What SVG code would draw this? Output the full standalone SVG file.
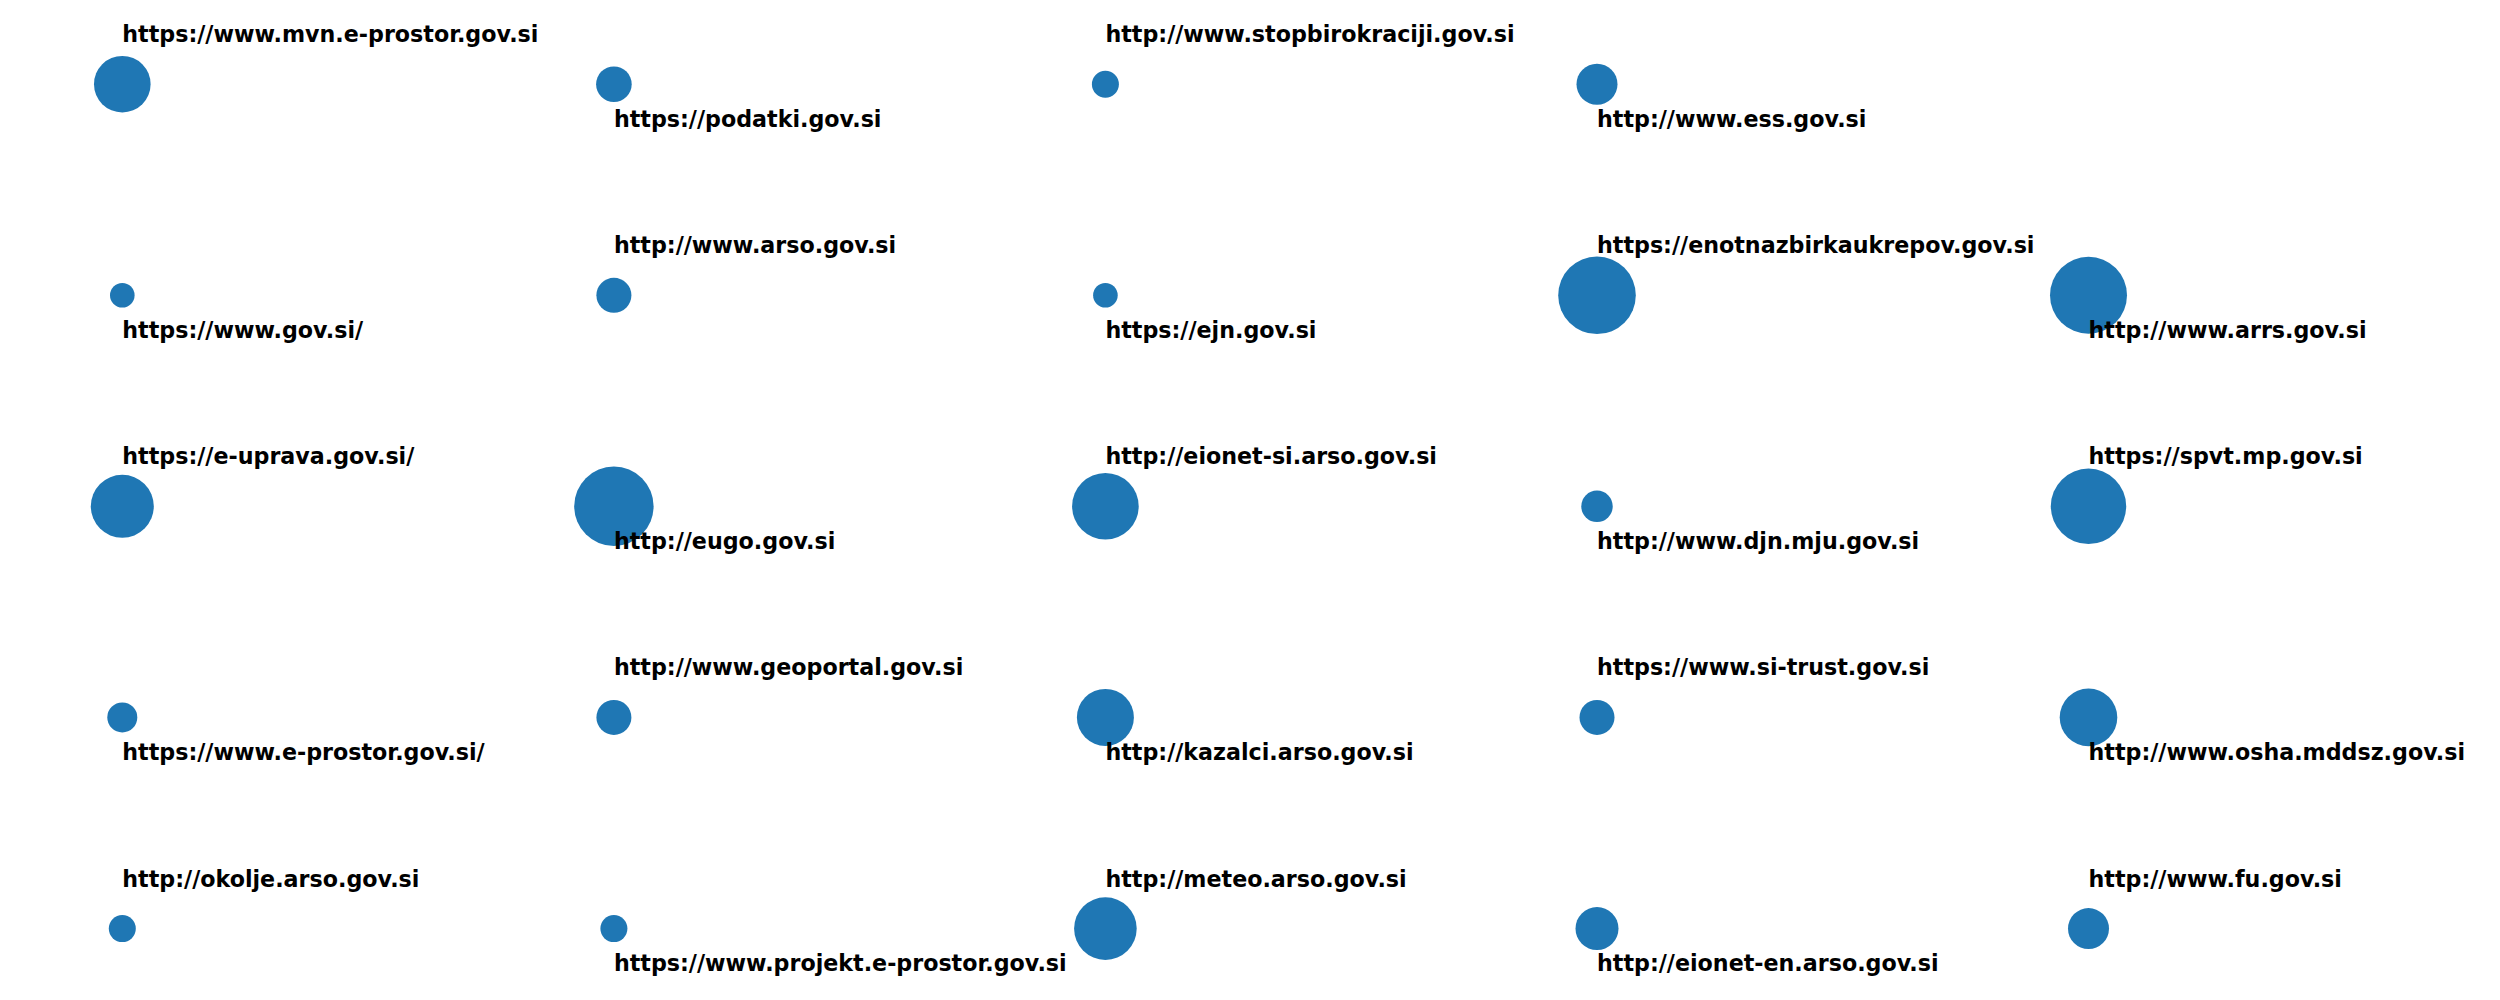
<svg xmlns="http://www.w3.org/2000/svg" width="2500" height="1000" viewBox="0 0 2500 1000">
<style>
.n{fill:#1f77b4}
.l{font-family:"DejaVu Sans","Liberation Sans",sans-serif;font-weight:bold;font-size:22.2px;fill:#000}
</style>
<rect width="2500" height="1000" fill="#fff"/>
<g id="connectors"></g>
<g id="n-mvn"><circle class="n" cx="122.3" cy="84.2" r="28.3"/><text class="l" x="122.3" y="42.2">https://www.mvn.e-prostor.gov.si</text></g>
<g id="n-podatki"><circle class="n" cx="613.9" cy="84.2" r="17.8"/><text class="l" x="613.9" y="126.7">https://podatki.gov.si</text></g>
<g id="n-stopbirokraciji"><circle class="n" cx="1105.4" cy="84.2" r="13.5"/><text class="l" x="1105.4" y="42.2">http://www.stopbirokraciji.gov.si</text></g>
<g id="n-ess"><circle class="n" cx="1597" cy="84.2" r="20.5"/><text class="l" x="1597" y="126.7">http://www.ess.gov.si</text></g>

<g id="n-govsi"><circle class="n" cx="122.3" cy="295.3" r="12.3"/><text class="l" x="122.3" y="337.8">https://www.gov.si/</text></g>
<g id="n-arso"><circle class="n" cx="613.9" cy="295.3" r="17.5"/><text class="l" x="613.9" y="253.3">http://www.arso.gov.si</text></g>
<g id="n-ejn"><circle class="n" cx="1105.4" cy="295.3" r="12.3"/><text class="l" x="1105.4" y="337.8">https://ejn.gov.si</text></g>
<g id="n-enotnazbirka"><circle class="n" cx="1597" cy="295.3" r="38.8"/><text class="l" x="1597" y="253.3">https://enotnazbirkaukrepov.gov.si</text></g>
<g id="n-arrs"><circle class="n" cx="2088.5" cy="295.3" r="38.5"/><text class="l" x="2088.5" y="337.8">http://www.arrs.gov.si</text></g>

<g id="n-euprava"><circle class="n" cx="122.3" cy="506.3" r="31.5"/><text class="l" x="122.3" y="464.3">https://e-uprava.gov.si/</text></g>
<g id="n-eugo"><circle class="n" cx="613.9" cy="506.3" r="39.7"/><text class="l" x="613.9" y="548.8">http://eugo.gov.si</text></g>
<g id="n-eionet-si"><circle class="n" cx="1105.4" cy="506.3" r="33.3"/><text class="l" x="1105.4" y="464.3">http://eionet-si.arso.gov.si</text></g>
<g id="n-djn"><circle class="n" cx="1597" cy="506.3" r="15.7"/><text class="l" x="1597" y="548.8">http://www.djn.mju.gov.si</text></g>
<g id="n-spvt"><circle class="n" cx="2088.5" cy="506.3" r="37.7"/><text class="l" x="2088.5" y="464.3">https://spvt.mp.gov.si</text></g>

<g id="n-eprostor"><circle class="n" cx="122.3" cy="717.4" r="15"/><text class="l" x="122.3" y="759.9">https://www.e-prostor.gov.si/</text></g>
<g id="n-geoportal"><circle class="n" cx="613.9" cy="717.4" r="17.5"/><text class="l" x="613.9" y="675.4">http://www.geoportal.gov.si</text></g>
<g id="n-kazalci"><circle class="n" cx="1105.4" cy="717.4" r="28.5"/><text class="l" x="1105.4" y="759.9">http://kazalci.arso.gov.si</text></g>
<g id="n-sitrust"><circle class="n" cx="1597" cy="717.4" r="17.5"/><text class="l" x="1597" y="675.4">https://www.si-trust.gov.si</text></g>
<g id="n-osha"><circle class="n" cx="2088.5" cy="717.4" r="28.8"/><text class="l" x="2088.5" y="759.9">http://www.osha.mddsz.gov.si</text></g>

<g id="n-okolje"><circle class="n" cx="122.3" cy="928.6" r="13.5"/><text class="l" x="122.3" y="886.6">http://okolje.arso.gov.si</text></g>
<g id="n-projekt"><circle class="n" cx="613.9" cy="928.6" r="13.5"/><text class="l" x="613.9" y="971.1">https://www.projekt.e-prostor.gov.si</text></g>
<g id="n-meteo"><circle class="n" cx="1105.4" cy="928.6" r="31.3"/><text class="l" x="1105.4" y="886.6">http://meteo.arso.gov.si</text></g>
<g id="n-eionet-en"><circle class="n" cx="1597" cy="928.6" r="21.5"/><text class="l" x="1597" y="971.1">http://eionet-en.arso.gov.si</text></g>
<g id="n-fu"><circle class="n" cx="2088.5" cy="928.6" r="20.5"/><text class="l" x="2088.5" y="886.6">http://www.fu.gov.si</text></g>
</svg>
